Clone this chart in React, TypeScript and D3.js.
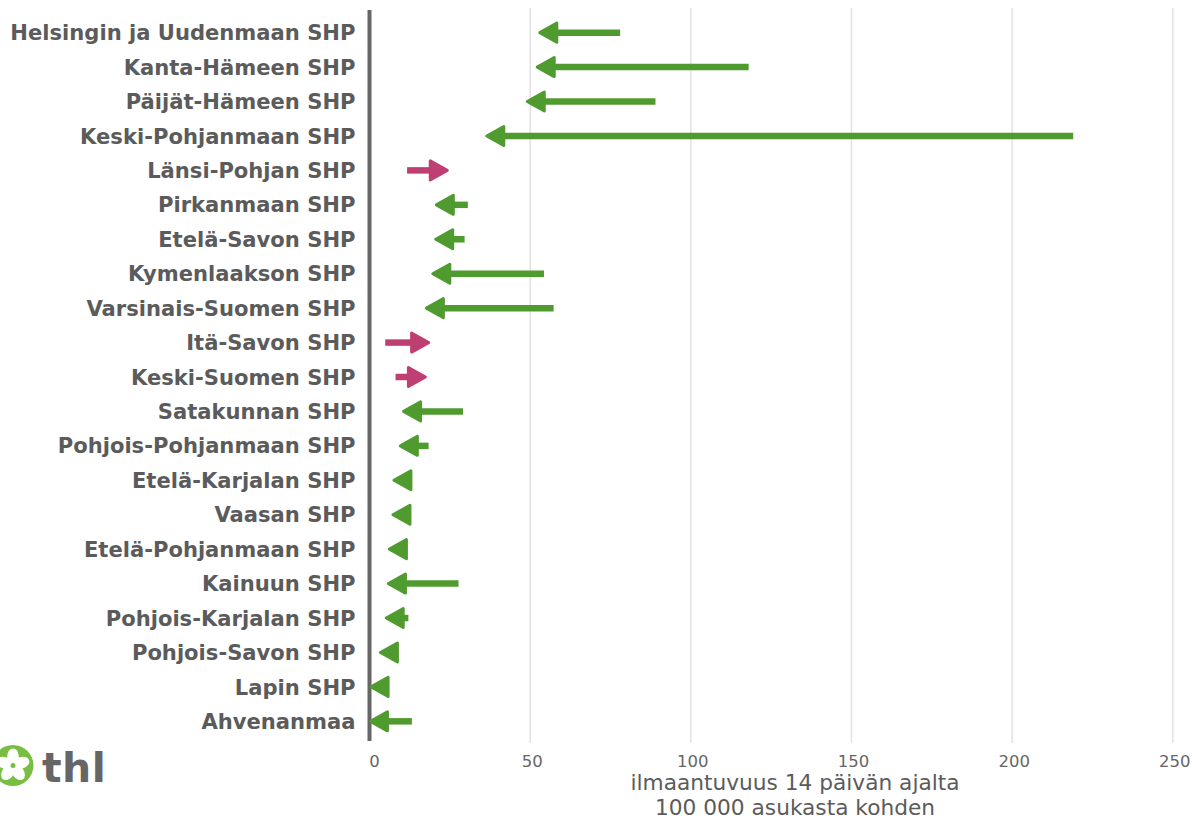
import * as d3 from 'd3'

const regions = [
  'Helsingin ja Uudenmaan SHP',
  'Kanta-Hämeen SHP',
  'Päijät-Hämeen SHP',
  'Keski-Pohjanmaan SHP',
  'Länsi-Pohjan SHP',
  'Pirkanmaan SHP',
  'Etelä-Savon SHP',
  'Kymenlaakson SHP',
  'Varsinais-Suomen SHP',
  'Itä-Savon SHP',
  'Keski-Suomen SHP',
  'Satakunnan SHP',
  'Pohjois-Pohjanmaan SHP',
  'Etelä-Karjalan SHP',
  'Vaasan SHP',
  'Etelä-Pohjanmaan SHP',
  'Kainuun SHP',
  'Pohjois-Karjalan SHP',
  'Pohjois-Savon SHP',
  'Lapin SHP',
  'Ahvenanmaa',
]

// previous 14 day period -> latest 14 day period
const previous = [78, 118, 89, 219, 11.7, 30.6, 29.6, 54.3, 57.3, 4.9, 8.1, 29.1, 18.4, 12, 11.8, 11, 27.7, 12.1, 8.5, 5.5, 13.2]
const latest = [53, 52.2, 49.1, 36.5, 24.2, 20.8, 20.6, 19.7, 17.7, 18.4, 17.4, 10.6, 9.6, 7.6, 7.3, 6.2, 5.9, 5.2, 3.4, 0.5, 0.3]

const xTicks = [0, 50, 100, 150, 200, 250]

const GREEN = '#509b2f'
const PINK = '#bf3f72'
const TEXT = '#5b5b5b'

export default function App() {
  const width = 1192
  const height = 819

  const x = d3.scaleLinear().domain([0, 265]).range([369.5, 1221])
  const y = d3.scalePoint<string>().domain(regions).range([12, 742]).padding(0.6)

  const headLen = 17
  const headHalf = 9.5

  const rows = regions.map((name, i) => {
    const x0 = x(previous[i])
    const x1 = x(latest[i])
    const dir = latest[i] > previous[i] ? 1 : -1
    const base = x1 - dir * headLen
    const cy = y(name) as number
    const lineEnd = base + dir * 2
    const showLine = dir * (lineEnd - x0) > 0
    const head = d3.path()
    head.moveTo(x1, cy)
    head.lineTo(base, cy - headHalf)
    head.lineTo(base, cy + headHalf)
    head.closePath()
    return { name, x0, lineEnd, showLine, head: head.toString(), cy, color: dir > 0 ? PINK : GREEN }
  })

  // logo flower petals
  const petals = d3.range(5).map(k => k * 72)

  return (
    <svg width={width} height={height} style={{ position: 'absolute', left: 0, top: 0, display: 'block' }}
      fontFamily="DejaVu Sans, sans-serif">
      <rect width={width} height={height} fill="#fff" />
      {xTicks.filter(t => t > 0).map(t => (
        <line key={t} x1={x(t)} x2={x(t)} y1={8} y2={743} stroke="#e2e2e2" strokeWidth={1.5} />
      ))}
      <line x1={x(0)} x2={x(0)} y1={10} y2={741} stroke="#666" strokeWidth={4} />

      {rows.map(r => (
        <g key={r.name}>
          {r.showLine && (
            <line x1={r.x0} x2={r.lineEnd} y1={r.cy} y2={r.cy} stroke={r.color} strokeWidth={6.5} />
          )}
          <path d={r.head} fill={r.color} stroke={r.color} strokeWidth={3} strokeLinejoin="round" />
          <text x={355.5} y={r.cy} dy="0.36em" textAnchor="end" fontWeight="bold" fontSize={21.1} fill={TEXT}>
            {r.name}
          </text>
        </g>
      ))}

      {xTicks.map((t, i) => (
        <text key={t} x={x(t) + (i === 0 ? 5 : 2)} y={767} textAnchor="middle" fontSize={16.5} fill="#666">
          {t}
        </text>
      ))}
      <text x={795} y={790} textAnchor="middle" fontSize={21.7} fill={TEXT}>ilmaantuvuus 14 päivän ajalta</text>
      <text x={795} y={815} textAnchor="middle" fontSize={21.7} fill={TEXT}>100 000 asukasta kohden</text>

      <g transform="translate(13,765.5)">
        <circle r={20.5} fill="#78be43" />
        {petals.map(a => (
          <ellipse key={a} cx={0} cy={-9} rx={5.8} ry={8} fill="#fff" transform={`rotate(${a})`} />
        ))}
        <circle r={2.5} fill="#78be43" />
      </g>
      <text x={42} y={782} fontSize={41} fontWeight="bold" fill="#666" letterSpacing={0.5}>thl</text>
    </svg>
  )
}
